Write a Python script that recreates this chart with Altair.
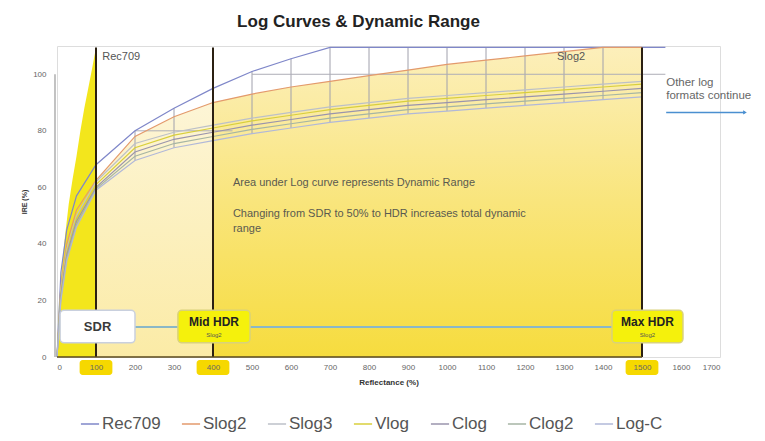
import altair as alt
import pandas as pd

# ---------------- data ----------------
reflectance = [0, 10, 25, 50, 100, 200, 300, 400, 500, 600, 700, 800, 900, 1000,
               1100, 1200, 1300, 1400, 1500]
rec709 = [0, 30, 45, 57, 68, 80, 88, 95, 101, 105.5, 109.5, 109.5, 109.5, 109.5,
          109.5, 109.5, 109.5, 109.5, 109.5]
slog2 = [0, 25, 40, 52, 62.5, 78, 85, 90, 93, 95.5, 97.5, 99.5, 101.5, 103.5,
         105, 106.5, 108, 109.5, 109.5]
slog3 = [0, 24, 38, 50, 62, 75.5, 79.5, 82, 84.5, 86.5, 88.5, 90, 91.5, 92.5,
         93.5, 94.5, 95.5, 96.5, 97.5]
vlog = [0, 23, 37, 49, 61, 74, 78.5, 81, 83.5, 85.5, 87.5, 89, 90.5, 91.5,
        92.5, 93.5, 94.5, 95.5, 96.5]
clog = [0, 22, 36, 48, 60, 72.5, 77, 79.5, 82, 84, 86, 87.5, 89, 90,
        91, 92, 93, 94, 95]
clog2 = [0, 21, 35, 47, 59.5, 71, 75.5, 78, 80.5, 82.5, 84.5, 86, 87.5, 88.5,
         89.5, 90.5, 91.5, 92.5, 93.5]
logc = [0, 20, 34, 46, 59, 69.5, 74, 76.5, 79, 81, 83, 84.5, 86, 87,
        88, 89, 90, 91, 92]
rec709_tail_x = [1560]
rec709_tail_y = [109.5]

series_names = ["Rec709", "Slog2", "Slog3", "Vlog", "Clog", "Clog2", "Log-C"]
series_values = [rec709, slog2, slog3, vlog, clog, clog2, logc]
series_colors = ["#7f87c9", "#e39a6c", "#bcc0c8", "#d9cf3c", "#9a94ac", "#a6b5a4", "#b1b8d8"]

# bright SDR fill boundary (0-100 %)
sdr_fill_x = [0, 5, 10, 20, 30, 40, 50, 60, 70, 80, 90, 100]
sdr_fill_y = [0, 18, 28, 42, 54, 63, 71, 80, 88, 95, 102, 109.5]

markers_x = [100, 400, 1500]
marker_top = 109.5

grid_h_y = [80, 100]
grid_h_x1 = [200, 500]
grid_h_x2 = [450, 1560]

box_labels = ["SDR", "Mid HDR", "Max HDR"]
box_sub = ["", "Slog2", "Slog2"]
box_x1 = [8, 310, 1423]
box_x2 = [200, 495, 1605]
box_y1 = [5, 5, 5]
box_y2 = [16.5, 16.5, 16.5]
box_fill = ["#ffffff", "#f5f10c", "#f5f10c"]
box_stroke = ["#c9d0de", "#d9d27a", "#d9d27a"]
connector_y = 10.6

highlight_ticks = [100, 400, 1500]

# ---------------- frames ----------------
rows = []
for name, vals in zip(series_names, series_values):
    for xv, yv in zip(reflectance, vals):
        rows.append({"x": xv, "y": yv, "series": name})
for xv, yv in zip(rec709_tail_x, rec709_tail_y):
    rows.append({"x": xv, "y": yv, "series": "Rec709"})
curves = pd.DataFrame(rows)
slog2_df = pd.DataFrame({"x": reflectance, "y": slog2})
sdr_df = pd.DataFrame({"x": sdr_fill_x, "y": sdr_fill_y})
markers_df = pd.DataFrame({"x": markers_x, "y0": 0, "y1": marker_top})
gridh_df = pd.DataFrame({"y": grid_h_y, "x1": grid_h_x1, "x2": grid_h_x2})
box_df = pd.DataFrame({"label": box_labels, "sub": box_sub, "x1": box_x1, "x2": box_x2,
                       "y1": box_y1, "y2": box_y2, "fill": box_fill, "stroke": box_stroke})
box_df["xc"] = (box_df["x1"] + box_df["x2"]) / 2
box_df["mid"] = (box_df["y1"] + box_df["y2"]) / 2
hl_df = pd.DataFrame({"t": highlight_ticks})

W, H = 663, 311
FONT = "Liberation Sans"

xscale = alt.Scale(domain=[0, 1700], nice=False, zero=False)
yscale = alt.Scale(domain=[0, 110], nice=False)
xaxis = alt.Axis(values=list(range(0, 1701, 100)), format="d", title="Reflectance (%)",
                 grid=False, domain=False, ticks=False, labelFontSize=8, labelColor="#666",
                 labelPadding=6, labelFont=FONT, titleFont=FONT, titleFontSize=8,
                 titleFontWeight="bold", titleColor="#333", titlePadding=7, zindex=1)
yaxis = alt.Axis(values=[0, 20, 40, 60, 80, 100], title="IRE (%)", grid=False,
                 domain=False, ticks=False, labelFontSize=8, labelColor="#666",
                 labelPadding=11, labelFont=FONT, titleFont=FONT, titleFontSize=7,
                 titleFontWeight="bold", titleColor="#333", titlePadding=5, zindex=1)


def X(f):
    return alt.X(f, type="quantitative", scale=xscale, axis=xaxis)


def Y(f):
    return alt.Y(f, type="quantitative", scale=yscale, axis=yaxis)


sdr_area = alt.Chart(sdr_df).mark_area(color="#f3e61c", opacity=1).encode(x=X("x"), y=Y("y"))

mid_area = alt.Chart(slog2_df).transform_filter(
    (alt.datum.x >= 100) & (alt.datum.x <= 400)
).mark_area(
    color=alt.LinearGradient(gradient="linear", x1=1, x2=1, y1=1, y2=0,
                             stops=[alt.GradientStop(color="#fbeba6", offset=0),
                                    alt.GradientStop(color="#fdf5d6", offset=1)])
).encode(x=X("x"), y=Y("y"))

hdr_area = alt.Chart(slog2_df).transform_filter(
    (alt.datum.x >= 400) & (alt.datum.x <= 1500)
).mark_area(
    color=alt.LinearGradient(gradient="linear", x1=1, x2=1, y1=1, y2=0,
                             stops=[alt.GradientStop(color="#f6dc3e", offset=0),
                                    alt.GradientStop(color="#f9e57c", offset=0.5),
                                    alt.GradientStop(color="#fcefbb", offset=1)])
).encode(x=X("x"), y=Y("y"))

grid_v = alt.Chart(curves).transform_filter(
    (alt.datum.x >= 200) & (alt.datum.x <= 1400)
).transform_aggregate(lo="min(y)", hi="max(y)", groupby=["x"]).mark_rule(
    color="#a0a0ac", strokeWidth=1
).encode(x=X("x"), y=Y("lo"), y2="hi")

grid_h = alt.Chart(gridh_df).mark_rule(color="#aeaeb6", strokeWidth=1).encode(
    x=X("x1"), x2="x2", y=Y("y"))

lines = alt.Chart(curves).mark_line(strokeWidth=1.2).encode(
    x=X("x"), y=Y("y"),
    color=alt.Color("series:N", scale=alt.Scale(domain=series_names, range=series_colors),
                    legend=alt.Legend(orient="none", legendX=23, legendY=368,
                                      direction="horizontal", title=None,
                                      labelFontSize=17, labelFont=FONT, labelColor="#555",
                                      symbolType="stroke", symbolSize=330,
                                      symbolStrokeWidth=1.5, columnPadding=17,
                                      labelOffset=2)),
    detail="series:N",
)

markers = alt.Chart(markers_df).mark_rule(color="#2b2012", strokeWidth=2).encode(
    x=X("x"), y=Y("y0"), y2="y1")

base_line = alt.Chart(pd.DataFrame({"a": [0], "b": [1500]})).mark_rule(
    color="#5a4a1c", strokeWidth=1.5).encode(x=X("a"), x2="b", y=alt.value(H))

y_line = alt.Chart(pd.DataFrame({"a": [0], "b": [100]})).mark_rule(
    color="#9a9a9a", strokeWidth=1.2, xOffset=-2).encode(x=alt.value(0), y=Y("a"), y2="b")

connector = alt.Chart(pd.DataFrame({"a": [box_x2[0]], "b": [box_x1[2]], "y": [connector_y]})).mark_rule(
    color="#8ab7c6", strokeWidth=2).encode(x=X("a"), x2="b", y=Y("y"))

boxes = alt.Chart(box_df).mark_rect(cornerRadius=4, strokeWidth=1.5).encode(
    x=X("x1"), x2="x2", y=Y("y1"), y2="y2",
    fill=alt.Fill("fill:N", scale=None), stroke=alt.Stroke("stroke:N", scale=None))

box_main_sdr = alt.Chart(box_df).transform_filter(alt.datum.sub == "").mark_text(
    font=FONT, fontSize=13, fontWeight="bold", color="#3a3a3a").encode(
    x=X("xc"), y=Y("mid"), text="label:N")

box_main_hdr = alt.Chart(box_df).transform_filter(alt.datum.sub != "").mark_text(
    font=FONT, fontSize=12, fontWeight="bold", color="#222", dy=-5).encode(
    x=X("xc"), y=Y("mid"), text="label:N")

box_sub_t = alt.Chart(box_df).transform_filter(alt.datum.sub != "").mark_text(
    font=FONT, fontSize=6, color="#555", dy=8).encode(
    x=X("xc"), y=Y("mid"), text="sub:N")

hl = alt.Chart(hl_df).transform_calculate(lo="datum.t - 42", hi="datum.t + 42").mark_rect(
    color="#f6d800", cornerRadius=3).encode(
    x=X("lo"), x2="hi", y=alt.value(H + 3), y2=alt.value(H + 18))

label_df = pd.DataFrame({
    "x": [116, 1282],
    "y": [106, 106],
    "t": ["Rec709", "Slog2"],
})
curve_labels = alt.Chart(label_df).mark_text(
    font=FONT, fontSize=11, color="#555", align="left").encode(
    x=X("x"), y=Y("y"), text="t:N")

note_df = pd.DataFrame({
    "x": [451, 451, 451],
    "y": [61.5, 50.5, 45.2],
    "t": ["Area under Log curve represents Dynamic Range",
          "Changing from SDR to 50% to HDR increases total dynamic",
          "range"],
})
notes = alt.Chart(note_df).mark_text(
    font=FONT, fontSize=11, color="#5a5a50", align="left").encode(
    x=X("x"), y=Y("y"), text="t:N")

other_df = pd.DataFrame({"x": [1562, 1562], "y": [97, 92.2], "t": ["Other log", "formats continue"]})
other = alt.Chart(other_df).mark_text(
    font=FONT, fontSize=11.5, color="#666", align="left").encode(
    x=X("x"), y=Y("y"), text="t:N")

arrow_df = pd.DataFrame({"a": [1562], "b": [1764], "y": [86.5]})
arrow = alt.Chart(arrow_df).mark_rule(color="#4a8fd0", strokeWidth=1.5).encode(
    x=X("a"), x2="b", y=Y("y"))
arrow_head = alt.Chart(arrow_df).mark_point(
    shape="triangle-right", filled=True, color="#4a8fd0", size=18, opacity=1).encode(
    x=X("b"), y=Y("y"))

chart = alt.layer(
    sdr_area, mid_area, hdr_area, grid_v, grid_h, lines, markers, base_line, y_line,
    connector, boxes, box_main_sdr, box_main_hdr, box_sub_t, hl,
    curve_labels, notes, other, arrow, arrow_head,
).properties(
    width=W, height=H,
    title=alt.TitleParams("Log Curves & Dynamic Range", font=FONT, fontSize=17,
                          fontWeight="bold", color="#222", anchor="middle", dx=-30,
                          offset=14),
    autosize=alt.AutoSizeParams(type="none"),
    padding={"left": 49, "top": 38, "right": 37, "bottom": 76},
).configure_view(stroke=None).configure(background="#ffffff")

chart.save("out.html", embed_options={"renderer": "svg", "actions": False})
